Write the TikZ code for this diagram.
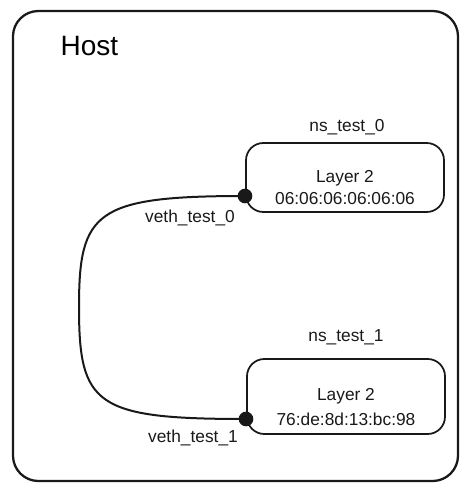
\documentclass[tikz,border=0pt]{standalone}
\usepackage{fontspec}
\setmainfont{Liberation Sans}
\begin{document}
\begin{tikzpicture}[x=0.75pt,y=-0.75pt,
  hostbox/.style={draw=black!90,line width=1.7pt,rounded corners=19pt},
  nsbox/.style={draw=black!90,line width=1.3pt,rounded corners=13pt},
  lbl/.style={font=\fontsize{13}{15}\selectfont,text=black!90},
  dotnode/.style={circle,fill=black!90,inner sep=0pt,minimum size=11pt},
  link/.style={draw=black!90,line width=1.5pt}]
\useasboundingbox (0,0) rectangle (473,490);
\draw[hostbox] (13,11) rectangle (458,481);
\node[font=\fontsize{21}{24}\selectfont,anchor=west] (host) at (56,46) {Host};
% namespace 0
\draw[nsbox] (246,143) rectangle (444,212);
\node[lbl] (l0) at (345,178) {Layer 2};
\node[lbl] (m0) at (345,199) {06:06:06:06:06:06};
\node[lbl] (n0) at (347,127) {ns\_test\_0};
% namespace 1
\draw[nsbox] (247,359) rectangle (445,434);
\node[lbl] (l1) at (346,396) {Layer 2};
\node[lbl] (m1) at (346,419) {76:de:8d:13:bc:98};
\node[lbl] (n1) at (346,337) {ns\_test\_1};
% veth
\node[dotnode] (d0) at (245,196) {};
\node[dotnode] (d1) at (246,419) {};
\node[lbl] (v0) at (190,218) {veth\_test\_0};
\node[lbl] (v1) at (193,438) {veth\_test\_1};
\coordinate (mid) at (79,307);
\draw[link] (d0.center) .. controls (95,196) and (79,212) .. (mid)
  .. controls (79,405) and (95,419) .. (d1.center);
\end{tikzpicture}
\end{document}
